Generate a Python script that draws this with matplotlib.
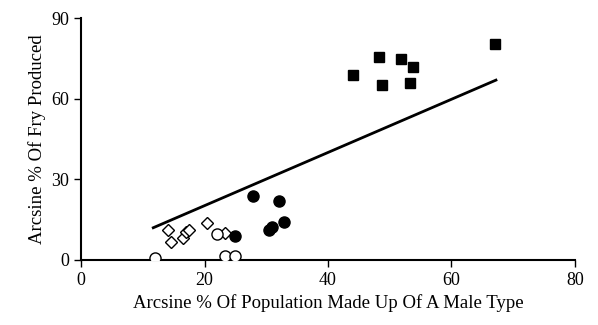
import matplotlib
matplotlib.use("Agg")
import matplotlib.pyplot as plt

# open diamonds
diamond_x = [14.1, 14.5, 16.5, 17.0, 17.5, 20.4, 23.3]
diamond_y = [11.2, 6.8, 8.3, 10.5, 11.2, 13.6, 9.9]
# open circles
open_circle_x = [11.9, 22.0, 23.3, 24.9]
open_circle_y = [0.9, 9.6, 1.6, 1.6]
# filled circles
filled_circle_x = [24.9, 27.9, 32.1, 30.5, 30.9, 32.9]
filled_circle_y = [8.9, 23.9, 21.9, 11.2, 12.4, 14.0]
# filled squares
square_x = [44.0, 48.3, 48.8, 51.8, 53.7, 53.3, 67.0]
square_y = [68.8, 75.6, 65.1, 74.6, 71.9, 65.9, 80.3]
# regression line end points
line_x = [11.7, 67.2]
line_y = [12.0, 66.9]

plt.rcParams["font.family"] = ["Liberation Serif", "DejaVu Serif"]

fig = plt.figure(figsize=(5.98, 3.25), dpi=100)
ax = fig.add_axes([0.1355, 0.2, 0.826, 0.7446])

ax.plot(line_x, line_y, color="black", lw=2, zorder=2)
ax.plot(diamond_x, diamond_y, "D", ms=6, mfc="white", mec="black", mew=1, zorder=3)
ax.plot(open_circle_x, open_circle_y, "o", ms=8, mfc="white", mec="black", mew=1, zorder=3)
ax.plot(filled_circle_x, filled_circle_y, "o", ms=8, color="black", zorder=3)
ax.plot(square_x, square_y, "s", ms=7.5, color="black", zorder=3)

ax.set_xlim(0, 80)
ax.set_ylim(0, 90)
ax.set_xticks([0, 20, 40, 60, 80])
ax.set_yticks([0, 30, 60, 90])
ax.spines["top"].set_visible(False)
ax.spines["right"].set_visible(False)
for s in ("left", "bottom"):
    ax.spines[s].set_linewidth(1.5)
ax.tick_params(direction="out", length=5, width=1, labelsize=13)
ax.set_xlabel("Arcsine % Of Population Made Up Of A Male Type", fontsize=13.5)
ax.set_ylabel("Arcsine % Of Fry Produced", fontsize=13.5)

fig.savefig("out.png", dpi=100)
